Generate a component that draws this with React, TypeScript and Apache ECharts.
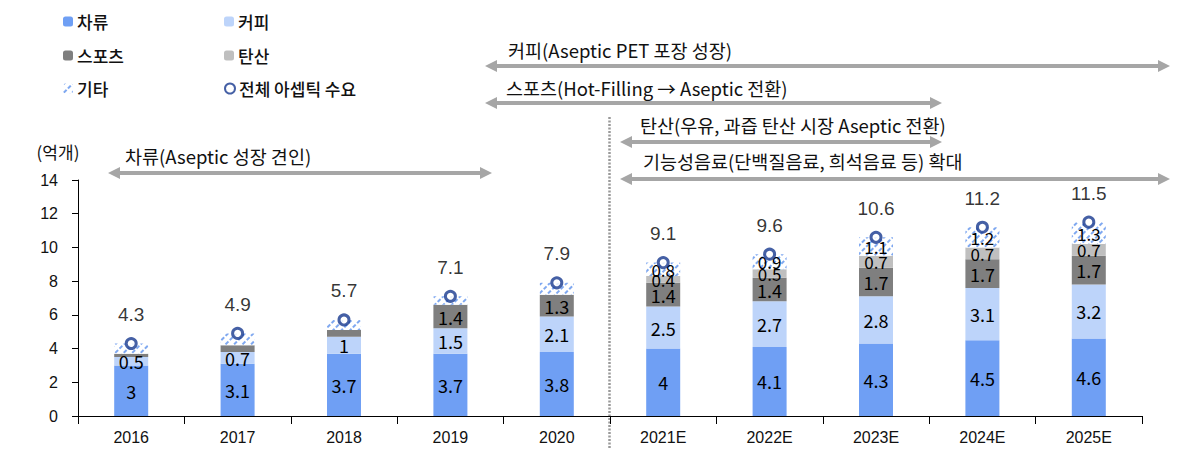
import React, { useEffect, useRef } from "react";
import * as echarts from "echarts";

const categories = ["2016", "2017", "2018", "2019", "2020", "2021E", "2022E", "2023E", "2024E", "2025E"];
const teaValues = [3, 3.1, 3.7, 3.7, 3.8, 4, 4.1, 4.3, 4.5, 4.6];
const coffeeValues = [0.5, 0.7, 1, 1.5, 2.1, 2.5, 2.7, 2.8, 3.1, 3.2];
const sportsValues = [0.2, 0.4, 0.4, 1.4, 1.3, 1.4, 1.4, 1.7, 1.7, 1.7];
const sodaValues = [0, 0, 0, 0, 0, 0.4, 0.5, 0.7, 0.7, 0.7];
const otherValues = [0.6, 0.7, 0.6, 0.5, 0.7, 0.8, 0.9, 1.1, 1.2, 1.3];
const totalValues = [4.3, 4.9, 5.7, 7.1, 7.9, 9.1, 9.6, 10.6, 11.2, 11.5];
const yTicks = [0, 2, 4, 6, 8, 10, 12, 14];

const seriesNames = ["차류", "커피", "스포츠", "탄산", "기타", "전체 아셉틱 수요"];
const annotations = [
  { text: "차류(Aseptic 성장 견인)", from: 108, to: 492, y: 173, textX: 125, textY: 156 },
  { text: "커피(Aseptic PET 포장 성장)", from: 485, to: 1170, y: 66, textX: 508, textY: 50 },
  { text: "스포츠(Hot-Filling → Aseptic 전환)", from: 485, to: 942, y: 103, textX: 506, textY: 88 },
  { text: "탄산(우유, 과즙 탄산 시장 Aseptic 전환)", from: 620, to: 942, y: 142, textX: 640, textY: 125 },
  { text: "기능성음료(단백질음료, 희석음료 등) 확대", from: 620, to: 1170, y: 179, textX: 643, textY: 161 },
];

const NARROW = "'Liberation Sans Narrow', 'Arial Narrow', 'Noto Sans CJK KR', sans-serif";
const SANS = "'Liberation Sans', Arial, 'Noto Sans CJK KR', sans-serif";
const KR = "'Noto Sans CJK KR', sans-serif";
const ARROW = "#A6A6A6";

function arrow(from: number, to: number, y: number) {
  const h = 12;
  const w = 6;
  return [
    { type: "line", shape: { x1: from + h - 1, y1: y, x2: to - h + 1, y2: y }, style: { stroke: ARROW, lineWidth: 4 } },
    { type: "polygon", shape: { points: [[from, y], [from + h, y - w], [from + h, y + w]] }, style: { fill: ARROW } },
    { type: "polygon", shape: { points: [[to, y], [to - h, y - w], [to - h, y + w]] }, style: { fill: ARROW } },
  ];
}

function barSeries(name: string, values: number[], color: string, showLabel: (v: number, i: number) => boolean, extra: any = {}) {
  return {
    name,
    type: "bar",
    stack: "total",
    barWidth: 34,
    data: values.map((v, i) => ({
      value: v,
      label: { show: showLabel(v, i) },
    })),
    itemStyle: { color, ...(extra.itemStyle || {}) },
    label: {
      position: "inside",
      color: "#000",
      fontSize: extra.fontSize || 18,
      lineHeight: extra.lineHeight,
      fontFamily: NARROW,
    },
  };
}

export default function App() {
  const ref = useRef<HTMLDivElement>(null);
  useEffect(() => {
    if (!ref.current) return;
    const chart = echarts.init(ref.current, null, { renderer: "svg" });
    const isForecast = (i: number) => categories[i].endsWith("E");
    const graphic: any[] = [];
    annotations.forEach((a) => {
      graphic.push(...arrow(a.from, a.to, a.y));
      graphic.push({
        type: "text",
        x: a.textX,
        y: a.textY,
        style: { text: a.text, fill: "#111", fontSize: 18.5, fontFamily: NARROW, verticalAlign: "middle", align: "left" },
      });
    });
    graphic.push({
      type: "line",
      shape: { x1: 609.5, y1: 117, x2: 609.5, y2: 448 },
      style: { stroke: "#999", lineWidth: 2.5, lineDash: [2, 1.5] },
    });
    graphic.push({
      type: "text",
      x: 58,
      y: 151,
      style: { text: "(억개)", fill: "#111", fontSize: 17, fontFamily: KR, align: "center", verticalAlign: "middle" },
    });

    const legendPos = [
      [63, 13], [224, 13], [63, 47], [224, 47], [63, 80], [224, 80],
    ];

    chart.setOption({
      animation: false,
      backgroundColor: "#fff",
      grid: { left: 78, right: 42, top: 180, bottom: 42 },
      legend: seriesNames.map((n, i) => ({
        data: [n],
        left: legendPos[i][0],
        top: legendPos[i][1],
        padding: 0,
        itemWidth: 10,
        itemHeight: 10,
        itemGap: 4,
        selectedMode: false,
        textStyle: { fontSize: 17, fontFamily: KR, fontWeight: 500, color: "#111", padding: [0, 0, 0, -1] },
      })),
      xAxis: {
        type: "category",
        data: categories,
        axisLine: { lineStyle: { color: "#000", width: 1 } },
        axisTick: { show: true, length: 8, lineStyle: { color: "#000" } },
        axisLabel: { fontSize: 16, color: "#111", fontFamily: SANS, margin: 13 },
      },
      yAxis: {
        type: "value",
        min: yTicks[0],
        max: yTicks[yTicks.length - 1],
        interval: 2,
        splitLine: { show: false },
        axisLine: { show: true, lineStyle: { color: "#000", width: 1 } },
        axisTick: { show: true, length: 6, lineStyle: { color: "#000" } },
        axisLabel: { fontSize: 16, color: "#111", fontFamily: SANS, margin: 20 },
      },
      graphic,
      series: [
        barSeries(seriesNames[0], teaValues, "#6F9FF4", () => true),
        barSeries(seriesNames[1], coffeeValues, "#BDD4FA", () => true),
        barSeries(seriesNames[2], sportsValues, "#7F7F7F", (v) => v >= 1),
        barSeries(seriesNames[3], sodaValues, "#BFBFBF", (v, i) => v > 0 && isForecast(i), { fontSize: 17, lineHeight: 12 }),
        barSeries(seriesNames[4], otherValues, "#ffffff", (v, i) => isForecast(i), {
          fontSize: 17,
          lineHeight: 12,
          itemStyle: {
            decal: {
              symbol: "rect",
              symbolSize: 1,
              color: "#7FA8F0",
              backgroundColor: "#ffffff",
              dashArrayX: [4, 2],
              dashArrayY: [1.5, 3.5],
              rotation: -Math.PI / 4,
            },
          },
        }),
        {
          name: seriesNames[5],
          type: "scatter",
          data: totalValues,
          z: 5,
          symbol: "circle",
          symbolSize: 10,
          itemStyle: { color: "#ffffff", borderColor: "#17388F", borderWidth: 3 },
          label: {
            show: true,
            position: "top",
            distance: 13,
            color: "#000",
            fontSize: 19,
            fontFamily: SANS,
          },
        },
      ],
    });
    return () => chart.dispose();
  }, []);
  return <div ref={ref} style={{ position: "absolute", left: 0, top: 0, width: 1184, height: 458 }} />;
}
